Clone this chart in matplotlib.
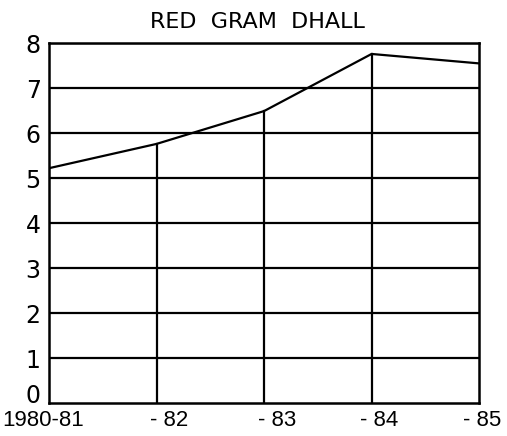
import matplotlib.pyplot as plt
from matplotlib import transforms

years = ['1980-81', '- 82', '- 83', '- 84', '- 85']
prices = [5.22, 5.76, 6.49, 7.76, 7.55]
yticks = [0, 1, 2, 3, 4, 5, 6, 7, 8]

fig = plt.figure(figsize=(5.07, 4.36), dpi=100)
ax = fig.add_axes([0.0966, 0.0757, 0.8484, 0.8253])

x = list(range(len(years)))

# horizontal grid
for y in yticks[1:]:
    ax.axhline(y, color='black', lw=1.6, zorder=1)

# vertical drop lines from the curve to the base
for xi, p in zip(x[1:-1], prices[1:-1]):
    ax.plot([xi, xi], [0, p], color='black', lw=1.6, zorder=1)

ax.plot(x, prices, color='black', lw=1.6, zorder=2)

ax.set_xlim(0, len(years) - 1)
ax.set_ylim(0, 8)
for s in ax.spines.values():
    s.set_linewidth(1.8)

ax.set_xticks(x)
ax.set_xticklabels(years, fontsize=16, family='Liberation Sans')
ax.set_yticks(yticks)
ax.set_yticklabels([str(v) for v in yticks], fontsize=17)
ax.tick_params(length=0)
ax.tick_params(axis='x', pad=5)
ax.tick_params(axis='y', pad=6)

# nudge labels like the hand lettering
shifts = [-6, 13, 13, 8, 3]
for lab, dx in zip(ax.get_xticklabels(), shifts):
    lab.set_transform(lab.get_transform() + transforms.ScaledTranslation(dx / 100, 0, fig.dpi_scale_trans))
ylab0 = ax.get_yticklabels()[0]
ylab0.set_transform(ylab0.get_transform() + transforms.ScaledTranslation(0, 9 / 100, fig.dpi_scale_trans))

ax.set_title('RED  GRAM  DHALL', fontsize=16, pad=11, x=0.485)

fig.savefig('out.png', dpi=100)
